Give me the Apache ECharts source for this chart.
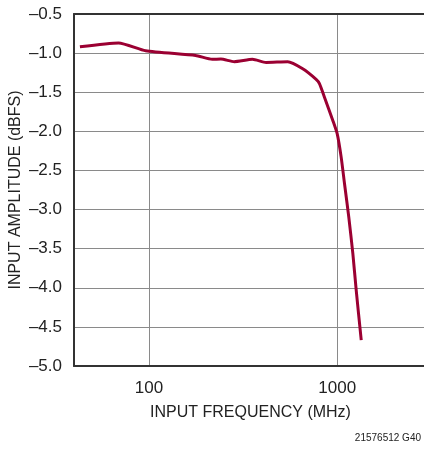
<!DOCTYPE html>
<html>
<head>
<meta charset="utf-8">
<script src="https://cdn.jsdelivr.net/npm/echarts@6/dist/echarts.min.js"></script>
<style>
  html, body { margin: 0; padding: 0; background: #fff; }
  #chart { width: 424px; height: 453px; }
</style>
</head>
<body>
<div id="chart"></div>
<script>
// input frequency (MHz) vs input amplitude (dBFS)
const freqMHz = [43, 69, 96, 177, 217, 241, 284, 355, 419, 546, 656, 773, 805, 855, 948, 1000, 1050, 1094, 1153, 1211, 1262, 1342];
const amplitude = [-0.92, -0.87, -0.97, -1.03, -1.08, -1.075, -1.11, -1.08, -1.12, -1.11, -1.2, -1.335, -1.39, -1.56, -1.86, -2.03, -2.33, -2.67, -3.1, -3.56, -4.03, -4.67];
const yTicks = { min: -5, max: -0.5, step: 0.5 };
const xRange = { min: 40, max: 3000 };

const font = '"Liberation Sans Narrow", "Liberation Sans", Arial, sans-serif';
const fmtY = v => v.toFixed(1).replace('-', '\u2013');

const chart = echarts.init(document.getElementById('chart'));
chart.setOption({
  animation: false,
  grid: {
    left: 74, right: -3, top: 14, bottom: 87,
    outerBoundsMode: 'none', containLabel: false
  },
  xAxis: [{
    type: 'log',
    logBase: 10,
    min: xRange.min,
    max: xRange.max,
    name: 'INPUT FREQUENCY (MHz)',
    nameLocation: 'middle',
    nameGap: 39,
    nameMoveOverlap: false,
    nameTextStyle: { fontFamily: font, fontSize: 16, color: '#222' },
    axisLine: { lineStyle: { color: '#333', width: 2 } },
    axisTick: { show: false },
    minorTick: { show: false },
    axisLabel: {
      fontFamily: font, fontSize: 17, color: '#222', margin: 14,
      showMinLabel: false, showMaxLabel: false,
      formatter: v => String(Math.round(v))
    },
    splitLine: { show: true, lineStyle: { color: '#8a8a8a', width: 1 } }
  }, {
    // top frame line only
    type: 'log',
    logBase: 10,
    min: xRange.min,
    max: xRange.max,
    position: 'top',
    axisLine: { show: true, lineStyle: { color: '#333', width: 2 } },
    axisTick: { show: false },
    axisLabel: { show: false },
    splitLine: { show: false }
  }],
  yAxis: {
    type: 'value',
    min: yTicks.min,
    max: yTicks.max,
    interval: yTicks.step,
    name: 'INPUT AMPLITUDE (dBFS)',
    nameLocation: 'middle',
    nameGap: 50,
    nameMoveOverlap: false,
    nameTextStyle: { fontFamily: font, fontSize: 16, color: '#222' },
    axisLine: { show: true, lineStyle: { color: '#333', width: 2 } },
    axisTick: { show: false },
    axisLabel: { fontFamily: font, fontSize: 17, color: '#222', margin: 12, formatter: fmtY },
    splitLine: { show: true, lineStyle: { color: '#8a8a8a', width: 1 } }
  },
  graphic: [{
    type: 'text',
    right: 3,
    top: 433,
    style: { text: '21576512 G40', fontFamily: font, fontSize: 10, fill: '#222' }
  }],
  series: [{
    type: 'line',
    data: freqMHz.map((f, i) => [f, amplitude[i]]),
    symbol: 'none',
    smooth: 0.2,
    lineStyle: { color: '#9b0032', width: 3 }
  }]
});
</script>
</body>
</html>
